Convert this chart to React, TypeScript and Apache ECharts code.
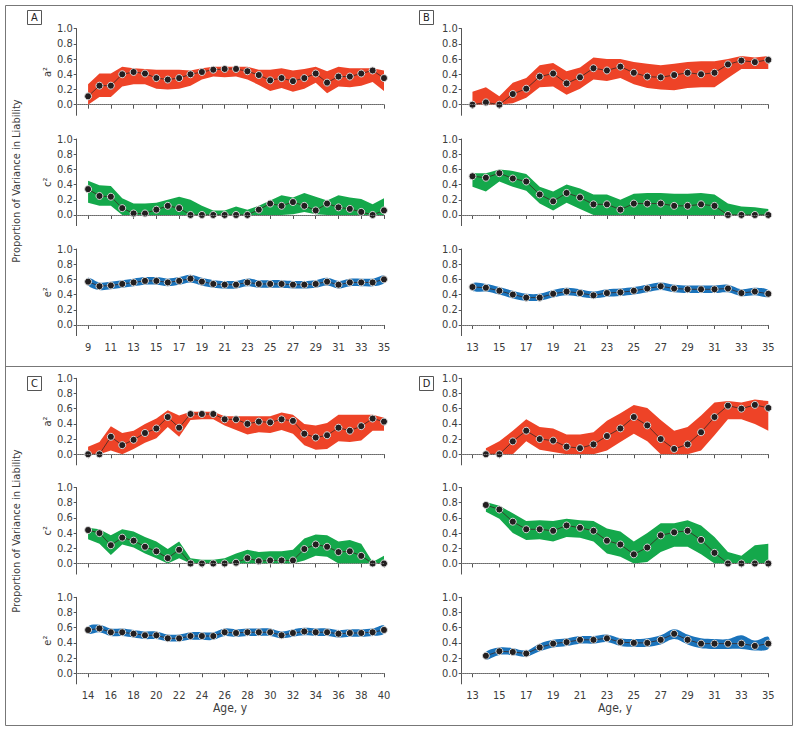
import React, { useEffect, useRef } from "react";
import * as echarts from "echarts";

// ---------- Data ----------
const agesA = [9, 10, 11, 12, 13, 14, 15, 16, 17, 18, 19, 20, 21, 22, 23, 24, 25, 26, 27, 28, 29, 30, 31, 32, 33, 34, 35];
const agesB = [13, 14, 15, 16, 17, 18, 19, 20, 21, 22, 23, 24, 25, 26, 27, 28, 29, 30, 31, 32, 33, 34, 35];
const agesC = [14, 15, 16, 17, 18, 19, 20, 21, 22, 23, 24, 25, 26, 27, 28, 29, 30, 31, 32, 33, 34, 35, 36, 37, 38, 39, 40];
const agesD = [14, 15, 16, 17, 18, 19, 20, 21, 22, 23, 24, 25, 26, 27, 28, 29, 30, 31, 32, 33, 34, 35];

const ticksA = [9, 11, 13, 15, 17, 19, 21, 23, 25, 27, 29, 31, 33, 35];
const ticksB = [13, 15, 17, 19, 21, 23, 25, 27, 29, 31, 33, 35];
const ticksC = [14, 16, 18, 20, 22, 24, 26, 28, 30, 32, 34, 36, 38, 40];
const ticksD = [13, 15, 17, 19, 21, 23, 25, 27, 29, 31, 33, 35];
const yTicks = [0, 0.2, 0.4, 0.6, 0.8, 1.0];

// Panel A
const aA = [0.11, 0.25, 0.25, 0.40, 0.43, 0.41, 0.35, 0.33, 0.35, 0.40, 0.43, 0.46, 0.47, 0.47, 0.44, 0.39, 0.32, 0.35, 0.31, 0.35, 0.41, 0.29, 0.37, 0.37, 0.41, 0.45, 0.35];
const aA_lo = [0.0, 0.10, 0.10, 0.24, 0.27, 0.27, 0.21, 0.20, 0.21, 0.25, 0.33, 0.37, 0.36, 0.37, 0.33, 0.26, 0.18, 0.22, 0.17, 0.21, 0.29, 0.15, 0.24, 0.23, 0.25, 0.30, 0.18];
const aA_hi = [0.27, 0.41, 0.41, 0.50, 0.48, 0.47, 0.46, 0.46, 0.46, 0.45, 0.48, 0.50, 0.50, 0.50, 0.50, 0.46, 0.46, 0.48, 0.45, 0.47, 0.50, 0.44, 0.50, 0.48, 0.48, 0.48, 0.45];
const cA = [0.34, 0.25, 0.24, 0.09, 0.02, 0.02, 0.07, 0.12, 0.09, 0.0, 0.0, 0.0, 0.0, 0.0, 0.0, 0.07, 0.15, 0.12, 0.17, 0.12, 0.06, 0.15, 0.10, 0.08, 0.04, 0.0, 0.06];
const cA_lo = [0.16, 0.12, 0.12, 0.0, 0.0, 0.0, 0.0, 0.0, 0.0, 0.0, 0.0, 0.0, 0.0, 0.0, 0.0, 0.0, 0.0, 0.0, 0.01, 0.04, 0.01, 0.0, 0.0, 0.0, 0.0, 0.0, 0.0];
const cA_hi = [0.45, 0.39, 0.38, 0.22, 0.15, 0.15, 0.16, 0.20, 0.24, 0.20, 0.12, 0.06, 0.06, 0.11, 0.07, 0.12, 0.19, 0.26, 0.23, 0.29, 0.24, 0.19, 0.26, 0.23, 0.21, 0.14, 0.22];
const eA = [0.57, 0.51, 0.52, 0.54, 0.56, 0.58, 0.58, 0.56, 0.58, 0.61, 0.57, 0.54, 0.53, 0.53, 0.56, 0.54, 0.54, 0.54, 0.53, 0.53, 0.54, 0.57, 0.53, 0.56, 0.56, 0.56, 0.60];
const eA_lo = [0.52, 0.46, 0.47, 0.49, 0.51, 0.53, 0.53, 0.51, 0.53, 0.56, 0.52, 0.49, 0.48, 0.48, 0.51, 0.49, 0.49, 0.49, 0.48, 0.48, 0.49, 0.52, 0.48, 0.51, 0.51, 0.51, 0.55];
const eA_hi = [0.62, 0.56, 0.57, 0.59, 0.61, 0.63, 0.63, 0.61, 0.63, 0.66, 0.62, 0.59, 0.58, 0.58, 0.61, 0.59, 0.59, 0.59, 0.58, 0.58, 0.59, 0.62, 0.58, 0.61, 0.61, 0.61, 0.65];

// Panel B
const aB = [0.0, 0.03, 0.0, 0.14, 0.21, 0.37, 0.41, 0.28, 0.36, 0.48, 0.45, 0.50, 0.42, 0.37, 0.36, 0.39, 0.42, 0.40, 0.42, 0.53, 0.58, 0.56, 0.59];
const aB_lo = [0.0, 0.0, 0.0, 0.02, 0.09, 0.23, 0.24, 0.13, 0.21, 0.33, 0.31, 0.35, 0.27, 0.22, 0.20, 0.19, 0.22, 0.23, 0.23, 0.35, 0.47, 0.47, 0.47];
const aB_hi = [0.17, 0.23, 0.11, 0.29, 0.35, 0.52, 0.55, 0.44, 0.49, 0.62, 0.60, 0.60, 0.56, 0.54, 0.52, 0.54, 0.56, 0.57, 0.57, 0.60, 0.64, 0.62, 0.64];
const cB = [0.51, 0.49, 0.55, 0.48, 0.44, 0.27, 0.18, 0.29, 0.23, 0.14, 0.14, 0.07, 0.15, 0.15, 0.15, 0.12, 0.12, 0.14, 0.12, 0.0, 0.0, 0.0, 0.0];
const cB_lo = [0.37, 0.31, 0.44, 0.37, 0.32, 0.15, 0.06, 0.16, 0.08, 0.0, 0.0, 0.0, 0.0, 0.0, 0.0, 0.0, 0.0, 0.0, 0.0, 0.0, 0.0, 0.0, 0.0];
const cB_hi = [0.55, 0.55, 0.60, 0.58, 0.54, 0.37, 0.31, 0.40, 0.35, 0.27, 0.27, 0.20, 0.28, 0.29, 0.29, 0.28, 0.28, 0.29, 0.27, 0.15, 0.11, 0.10, 0.08];
const eB = [0.50, 0.49, 0.45, 0.40, 0.36, 0.36, 0.41, 0.44, 0.42, 0.39, 0.42, 0.43, 0.45, 0.48, 0.51, 0.48, 0.47, 0.47, 0.47, 0.48, 0.42, 0.44, 0.41];
const eB_lo = [0.45, 0.44, 0.40, 0.35, 0.32, 0.32, 0.36, 0.39, 0.37, 0.35, 0.37, 0.38, 0.40, 0.43, 0.46, 0.43, 0.42, 0.42, 0.42, 0.43, 0.38, 0.39, 0.37];
const eB_hi = [0.55, 0.54, 0.50, 0.45, 0.41, 0.41, 0.46, 0.49, 0.47, 0.44, 0.47, 0.48, 0.50, 0.53, 0.56, 0.53, 0.52, 0.52, 0.52, 0.53, 0.47, 0.49, 0.46];

// Panel C
const aC = [0.0, 0.0, 0.23, 0.12, 0.19, 0.28, 0.34, 0.49, 0.35, 0.53, 0.53, 0.53, 0.46, 0.46, 0.40, 0.43, 0.42, 0.46, 0.44, 0.27, 0.22, 0.25, 0.35, 0.31, 0.37, 0.47, 0.43];
const aC_lo = [0.0, 0.0, 0.05, 0.0, 0.07, 0.15, 0.21, 0.36, 0.23, 0.45, 0.46, 0.46, 0.38, 0.32, 0.26, 0.29, 0.28, 0.32, 0.27, 0.12, 0.06, 0.07, 0.17, 0.16, 0.18, 0.31, 0.31];
const aC_hi = [0.10, 0.16, 0.37, 0.28, 0.31, 0.40, 0.47, 0.58, 0.51, 0.56, 0.56, 0.56, 0.50, 0.50, 0.50, 0.50, 0.50, 0.55, 0.52, 0.40, 0.38, 0.41, 0.52, 0.52, 0.52, 0.52, 0.48];
const cC = [0.44, 0.40, 0.24, 0.34, 0.30, 0.22, 0.16, 0.07, 0.18, 0.0, 0.0, 0.0, 0.0, 0.01, 0.07, 0.03, 0.04, 0.04, 0.04, 0.19, 0.25, 0.22, 0.15, 0.16, 0.10, 0.0, 0.0];
const cC_lo = [0.32, 0.26, 0.11, 0.25, 0.21, 0.13, 0.07, 0.0, 0.07, 0.0, 0.0, 0.0, 0.0, 0.0, 0.0, 0.0, 0.0, 0.0, 0.0, 0.04, 0.10, 0.09, 0.0, 0.0, 0.0, 0.0, 0.0];
const cC_hi = [0.47, 0.45, 0.37, 0.45, 0.42, 0.35, 0.29, 0.19, 0.29, 0.07, 0.05, 0.05, 0.07, 0.13, 0.18, 0.15, 0.16, 0.16, 0.18, 0.33, 0.38, 0.37, 0.29, 0.31, 0.26, 0.02, 0.10];
const eC = [0.57, 0.59, 0.54, 0.54, 0.52, 0.50, 0.50, 0.46, 0.46, 0.49, 0.49, 0.49, 0.54, 0.53, 0.54, 0.54, 0.54, 0.50, 0.53, 0.55, 0.54, 0.54, 0.52, 0.53, 0.53, 0.54, 0.57];
const eC_lo = [0.52, 0.54, 0.49, 0.49, 0.47, 0.45, 0.45, 0.42, 0.42, 0.44, 0.44, 0.44, 0.49, 0.48, 0.49, 0.49, 0.49, 0.46, 0.48, 0.50, 0.49, 0.49, 0.47, 0.48, 0.48, 0.49, 0.52];
const eC_hi = [0.62, 0.64, 0.59, 0.59, 0.57, 0.55, 0.55, 0.51, 0.51, 0.54, 0.54, 0.54, 0.59, 0.58, 0.59, 0.59, 0.59, 0.55, 0.58, 0.60, 0.59, 0.59, 0.57, 0.58, 0.58, 0.59, 0.63];

// Panel D
const aD = [0.0, 0.0, 0.17, 0.31, 0.20, 0.18, 0.10, 0.08, 0.13, 0.24, 0.34, 0.49, 0.38, 0.20, 0.07, 0.13, 0.29, 0.49, 0.64, 0.60, 0.65, 0.61];
const aD_lo = [0.0, 0.0, 0.0, 0.17, 0.06, 0.03, 0.0, 0.0, 0.0, 0.05, 0.16, 0.27, 0.17, 0.0, 0.0, 0.0, 0.05, 0.25, 0.46, 0.46, 0.40, 0.31];
const aD_hi = [0.08, 0.17, 0.31, 0.46, 0.36, 0.34, 0.26, 0.26, 0.29, 0.44, 0.54, 0.65, 0.61, 0.45, 0.31, 0.36, 0.51, 0.68, 0.70, 0.68, 0.72, 0.70];
const cD = [0.77, 0.71, 0.55, 0.45, 0.45, 0.43, 0.50, 0.47, 0.43, 0.30, 0.25, 0.12, 0.21, 0.37, 0.41, 0.43, 0.31, 0.14, 0.0, 0.0, 0.0, 0.0];
const cD_lo = [0.68, 0.59, 0.40, 0.31, 0.32, 0.29, 0.35, 0.34, 0.29, 0.13, 0.09, 0.0, 0.02, 0.15, 0.22, 0.22, 0.12, 0.0, 0.0, 0.0, 0.0, 0.0];
const cD_hi = [0.81, 0.76, 0.66, 0.56, 0.57, 0.56, 0.59, 0.57, 0.56, 0.46, 0.42, 0.29, 0.40, 0.53, 0.53, 0.57, 0.50, 0.35, 0.15, 0.10, 0.24, 0.26];
const eD = [0.23, 0.29, 0.28, 0.26, 0.34, 0.39, 0.41, 0.44, 0.44, 0.46, 0.41, 0.40, 0.40, 0.44, 0.52, 0.44, 0.39, 0.39, 0.39, 0.39, 0.36, 0.39];
const eD_lo = [0.18, 0.24, 0.24, 0.22, 0.29, 0.34, 0.36, 0.39, 0.39, 0.41, 0.36, 0.35, 0.35, 0.38, 0.45, 0.38, 0.33, 0.32, 0.32, 0.32, 0.30, 0.32];
const eD_hi = [0.28, 0.34, 0.33, 0.30, 0.39, 0.44, 0.46, 0.49, 0.49, 0.51, 0.46, 0.45, 0.46, 0.50, 0.58, 0.51, 0.46, 0.45, 0.45, 0.50, 0.43, 0.48];

// ---------- Styles ----------
const FONT = "'Liberation Sans Narrow', 'DejaVu Sans Condensed', 'Arial Narrow', sans-serif";
const RED = "#ee4327";
const GREEN = "#14a84b";
const BLUE = "#1a73bb";
const TEXT = "#3c3c3c";
const AXIS = "#555555";

type Sub = {
  ages: number[]; est: number[]; lo: number[]; hi: number[];
  color: string; smooth: boolean;
  left: number; width: number; top: number;
  xmin: number; xmax: number; ticks: number[];
  bottom: boolean; yName: string;
};

const L_LEFT = 76.7, L_W = 307.3, R_LEFT = 461.7, R_W = 306.6;
const TOPS_UP = [28.7, 139, 249];
const TOPS_LO = [378.3, 487.5, 597.3];
const GRID_H = 86.6;

function buildSubs(): Sub[] {
  const subs: Sub[] = [];
  const panels = [
    { ages: agesA, d: [[aA, aA_lo, aA_hi], [cA, cA_lo, cA_hi], [eA, eA_lo, eA_hi]], left: L_LEFT, width: L_W, tops: TOPS_UP, xmin: 8, xmax: 35, ticks: ticksA, names: true },
    { ages: agesB, d: [[aB, aB_lo, aB_hi], [cB, cB_lo, cB_hi], [eB, eB_lo, eB_hi]], left: R_LEFT, width: R_W, tops: TOPS_UP, xmin: 12.2, xmax: 35, ticks: ticksB, names: false },
    { ages: agesC, d: [[aC, aC_lo, aC_hi], [cC, cC_lo, cC_hi], [eC, eC_lo, eC_hi]], left: L_LEFT, width: L_W, tops: TOPS_LO, xmin: 13, xmax: 40, ticks: ticksC, names: true },
    { ages: agesD, d: [[aD, aD_lo, aD_hi], [cD, cD_lo, cD_hi], [eD, eD_lo, eD_hi]], left: R_LEFT, width: R_W, tops: TOPS_LO, xmin: 12.2, xmax: 35, ticks: ticksD, names: false },
  ];
  const colors = [RED, GREEN, BLUE];
  const yNames = ["a\u00b2", "c\u00b2", "e\u00b2"];
  panels.forEach((p) => {
    for (let k = 0; k < 3; k++) {
      subs.push({
        ages: p.ages, est: p.d[k][0], lo: p.d[k][1], hi: p.d[k][2],
        color: colors[k], smooth: k === 2,
        left: p.left, width: p.width, top: p.tops[k],
        xmin: p.xmin, xmax: p.xmax, ticks: p.ticks,
        bottom: k === 2, yName: p.names ? yNames[k] : "",
      });
    }
  });
  return subs;
}

function buildOption() {
  const subs = buildSubs();
  const grid: any[] = [], xAxis: any[] = [], yAxis: any[] = [], series: any[] = [];
  subs.forEach((s, i) => {
    grid.push({ left: s.left, top: s.top, width: s.width, height: GRID_H, containLabel: false });
    xAxis.push({
      type: "value", gridIndex: i, min: s.xmin, max: s.xmax,
      axisLine: { show: true, lineStyle: { color: AXIS, width: 1 } },
      axisTick: { show: true, customValues: s.ticks, length: 4, lineStyle: { color: AXIS } },
      axisLabel: { show: s.bottom, customValues: s.ticks, fontFamily: FONT, fontSize: 11, color: TEXT, margin: 6 },
      splitLine: { show: false },
      name: "",
    });
    yAxis.push({
      type: "value", gridIndex: i, min: -0.14, max: 1.0,
      axisLine: { show: true, onZero: false, lineStyle: { color: AXIS, width: 1 } },
      axisTick: { show: true, customValues: yTicks, length: 3, lineStyle: { color: AXIS } },
      axisLabel: { show: true, customValues: yTicks, fontFamily: FONT, fontSize: 11, color: TEXT, margin: 4, formatter: (v: number) => v.toFixed(1) },
      splitLine: { show: false },
      name: s.yName, nameLocation: "middle", nameGap: 24, nameRotate: 90,
      nameTextStyle: { fontFamily: FONT, fontSize: 11, color: TEXT },
    });
    const ages = s.ages, lo = s.lo, hi = s.hi, color = s.color, smooth = s.smooth;
    series.push({
      type: "custom", coordinateSystem: "cartesian2d", xAxisIndex: i, yAxisIndex: i,
      data: [[ages[0], 0]], silent: true, z: 1, clip: false,
      renderItem: (params: any, api: any) => {
        if (params.dataIndex !== 0) return null;
        const top = ages.map((a, j) => api.coord([a, hi[j]]));
        const bot = ages.map((a, j) => api.coord([a, lo[j]])).reverse();
        return {
          type: "polygon",
          shape: { points: top.concat(bot), smooth: smooth ? 0.35 : 0 },
          style: { fill: color, stroke: null },
        };
      },
    });
    series.push({
      type: "line", xAxisIndex: i, yAxisIndex: i, z: 3,
      data: ages.map((a, j) => [a, s.est[j]]),
      symbol: "circle", symbolSize: 7, showSymbol: true,
      itemStyle: { color: "#231f20", borderColor: "#d9d9d9", borderWidth: 1 },
      lineStyle: { color: "#3a2a25", width: 0.8 },
      markLine: {
        silent: true, symbol: "none", label: { show: false },
        lineStyle: { type: "dotted", color: "#9a9a9a", width: 1 },
        data: [{ yAxis: 0 }],
      },
    });
  });

  const letterBox = (x: number, y: number, t: string) => ({
    type: "group", x, y,
    children: [
      { type: "rect", shape: { x: 0, y: 0, width: 14, height: 14 }, style: { fill: "#fff", stroke: "#555", lineWidth: 1 } },
      { type: "text", x: 7, y: 7, style: { text: t, font: `11px ${FONT}`, fill: "#222", align: "center", verticalAlign: "middle" } },
    ],
  });

  const graphic: any[] = [
    { type: "rect", shape: { x: 5.5, y: 5.5, width: 787, height: 720 }, style: { fill: "none", stroke: "#777", lineWidth: 1 }, z: -1 },
    { type: "line", shape: { x1: 5.5, y1: 366.5, x2: 792.5, y2: 366.5 }, style: { stroke: "#777", lineWidth: 1 } },
    letterBox(27.5, 10.5, "A"),
    letterBox(419.5, 10.5, "B"),
    letterBox(27.5, 376.5, "C"),
    letterBox(419.5, 376.5, "D"),
    { type: "text", x: 16, y: 181, rotation: Math.PI / 2, style: { text: "Proportion of Variance in Liability", font: `11px ${FONT}`, fill: TEXT, align: "center", verticalAlign: "middle" } },
    { type: "text", x: 16, y: 531, rotation: Math.PI / 2, style: { text: "Proportion of Variance in Liability", font: `11px ${FONT}`, fill: TEXT, align: "center", verticalAlign: "middle" } },
    { type: "text", x: 230, y: 708, style: { text: "Age, y", font: `12px ${FONT}`, fill: TEXT, align: "center", verticalAlign: "middle" } },
    { type: "text", x: 615, y: 708, style: { text: "Age, y", font: `12px ${FONT}`, fill: TEXT, align: "center", verticalAlign: "middle" } },
  ];

  return { animation: false, backgroundColor: "#fff", grid, xAxis, yAxis, series, graphic };
}

export default function App() {
  const ref = useRef<HTMLDivElement>(null);
  useEffect(() => {
    if (!ref.current) return;
    const chart = echarts.init(ref.current, undefined, { renderer: "svg" });
    chart.setOption(buildOption() as any);
    return () => chart.dispose();
  }, []);
  return <div ref={ref} style={{ position: "absolute", left: 0, top: 0, width: 800, height: 737, background: "#fff" }} />;
}
